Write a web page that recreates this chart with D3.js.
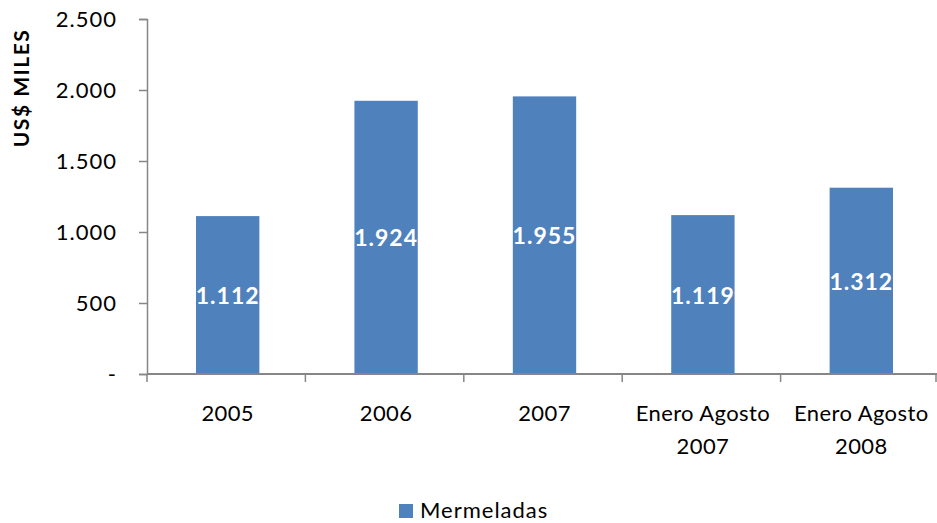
<!DOCTYPE html>
<html>
<head>
<meta charset="utf-8">
<script src="https://cdn.jsdelivr.net/npm/d3@7"></script>
<style>
body { margin: 0; background: #fff; }
text { font-family: Lato, "Open Sans", sans-serif; }
</style>
</head>
<body>
<div id="chart"></div>
<script>
var categories = [["2005"], ["2006"], ["2007"], ["Enero Agosto", "2007"], ["Enero Agosto", "2008"]];
var values = [1112, 1924, 1955, 1119, 1312];
var yTicks = [0, 500, 1000, 1500, 2000, 2500];
var seriesName = "Mermeladas";

var w = 937, h = 523;
var plotLeft = 147, plotRight = 939, plotTop = 19, plotBottom = 374;
var barColor = "#4f81bd";
var axisColor = "#868686";

var fmt = function(v) {
    if (v === 0) return "-";
    return d3.format(",")(v).replace(/,/g, ".");
};

var svg = d3.select("#chart").append("svg")
    .attr("width", w)
    .attr("height", h);

var x = d3.scaleBand()
    .domain(d3.range(categories.length))
    .range([plotLeft + 1.5, plotRight + 1.5])
    .paddingInner(0.6)
    .paddingOuter(0.3);

var y = d3.scaleLinear()
    .domain([0, 2500])
    .range([plotBottom, plotTop]);

// bars
svg.selectAll("rect.bar")
    .data(values)
    .enter()
    .append("rect")
    .attr("class", "bar")
    .attr("x", function(d, i) { return x(i); })
    .attr("y", function(d) { return y(d); })
    .attr("width", x.bandwidth())
    .attr("height", function(d) { return plotBottom - y(d); })
    .attr("fill", barColor);

// y axis
var yAxis = svg.append("g")
    .attr("transform", "translate(" + plotLeft + ",0)")
    .call(d3.axisLeft(y).tickValues(yTicks).tickFormat(fmt).tickSize(8).tickPadding(22));
yAxis.select(".domain").attr("stroke", axisColor).attr("stroke-width", 1.5);
yAxis.selectAll(".tick line").attr("stroke", axisColor).attr("stroke-width", 1.5);
yAxis.selectAll(".tick text")
    .attr("fill", "#000")
    .style("font-size", "22px")
    .style("letter-spacing", "1px");

// x axis
var step = (plotRight - plotLeft) / categories.length;
var xAxis = svg.append("g").attr("class", "xaxis");
xAxis.append("line")
    .attr("x1", plotLeft).attr("x2", plotRight)
    .attr("y1", plotBottom).attr("y2", plotBottom)
    .attr("stroke", axisColor).attr("stroke-width", 2);
xAxis.selectAll("line.tick")
    .data(d3.range(categories.length + 1))
    .enter()
    .append("line")
    .attr("class", "tick")
    .attr("x1", function(d) { return Math.min(plotLeft + d * step, w - 1); })
    .attr("x2", function(d) { return Math.min(plotLeft + d * step, w - 1); })
    .attr("y1", plotBottom)
    .attr("y2", plotBottom + 8)
    .attr("stroke", axisColor).attr("stroke-width", 1.5);

// category labels
var catLabels = svg.selectAll("text.cat")
    .data(categories)
    .enter()
    .append("text")
    .attr("class", "cat")
    .attr("text-anchor", "middle")
    .attr("fill", "#000")
    .style("font-size", "22px")
    .style("letter-spacing", "0.4px");
catLabels.each(function(lines, i) {
    var t = d3.select(this);
    lines.forEach(function(s, j) {
        t.append("tspan")
            .attr("x", x(i) + x.bandwidth() / 2)
            .attr("y", 421 + j * 33)
            .text(s);
    });
});

// value labels
svg.selectAll("text.value")
    .data(values)
    .enter()
    .append("text")
    .attr("class", "value")
    .text(function(d) { return fmt(d); })
    .attr("x", function(d, i) { return x(i) + x.bandwidth() / 2; })
    .attr("y", function(d) { return (y(d) + plotBottom) / 2 + 9; })
    .attr("text-anchor", "middle")
    .attr("fill", "#fff")
    .style("font-size", "23px")
    .style("font-weight", "bold")
    .style("letter-spacing", "1px");

// y title
svg.append("text")
    .attr("transform", "translate(29,88) rotate(-90)")
    .attr("text-anchor", "middle")
    .attr("fill", "#000")
    .style("font-size", "21px")
    .style("font-weight", "bold")
    .style("letter-spacing", "1.5px")
    .text("US$ MILES");

// legend
svg.append("rect")
    .attr("x", 399).attr("y", 504)
    .attr("width", 14).attr("height", 14)
    .attr("fill", barColor);
svg.append("text")
    .attr("x", 420).attr("y", 518)
    .attr("fill", "#000")
    .style("font-size", "22px")
    .style("letter-spacing", "1px")
    .text(seriesName);
</script>
</body>
</html>
